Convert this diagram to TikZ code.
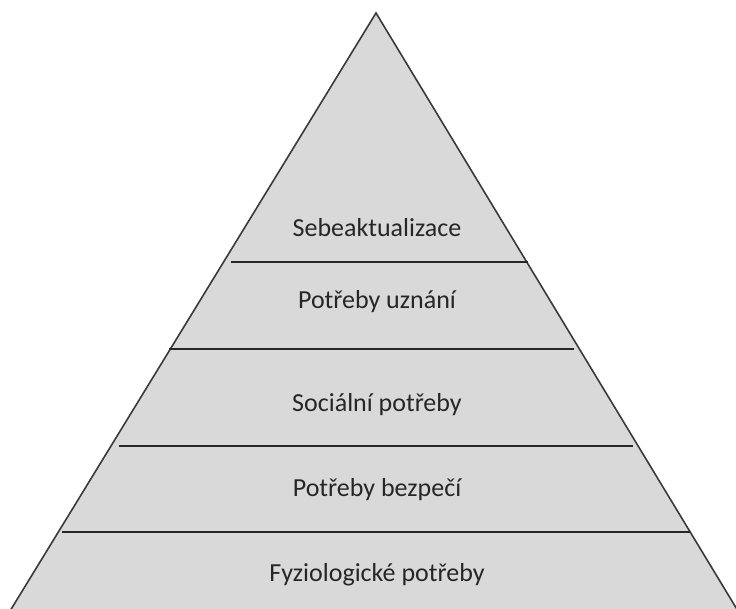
\documentclass[tikz,border=0pt]{standalone}
\usepackage{fontspec}
\setmainfont{Carlito}
\begin{document}
\begin{tikzpicture}[x=1pt,y=1pt]
\definecolor{fillgray}{HTML}{D9D9D9}
\definecolor{edgegray}{HTML}{3A3A3A}
\tikzset{
  edge/.style={draw=edgegray, line width=1.6pt, line join=miter},
  levelline/.style={draw=black!85, line width=1.6pt},
  lbl/.style={font=\fontsize{26}{30}\selectfont, text=black!85, inner sep=0pt}
}
\useasboundingbox (0,0) rectangle (736,609);
\begin{scope}
\clip (0,0) rectangle (736,609);
\fill[fillgray] (10,-2) -- (376,596) -- (738,-2) -- cycle;
\draw[edge] (10,-2) -- (376,596) -- (738,-2);
\end{scope}
% level separators
\coordinate (l1a) at (231,347); \coordinate (l1b) at (528,347);
\coordinate (l2a) at (169,260); \coordinate (l2b) at (574,260);
\coordinate (l3a) at (119,163); \coordinate (l3b) at (633,163);
\coordinate (l4a) at (62,77);   \coordinate (l4b) at (690,77);
\draw[levelline] (l1a) -- (l1b);
\draw[levelline] (l2a) -- (l2b);
\draw[levelline] (l3a) -- (l3b);
\draw[levelline] (l4a) -- (l4b);
% labels
\node[lbl] (t1) at (377,381) {Sebeaktualizace};
\node[lbl] (t2) at (377,307) {Potřeby uznání};
\node[lbl] (t3) at (377,204) {Sociální potřeby};
\node[lbl] (t4) at (377,119) {Potřeby bezpečí};
\node[lbl] (t5) at (377,34) {Fyziologické potřeby};
\end{tikzpicture}
\end{document}
